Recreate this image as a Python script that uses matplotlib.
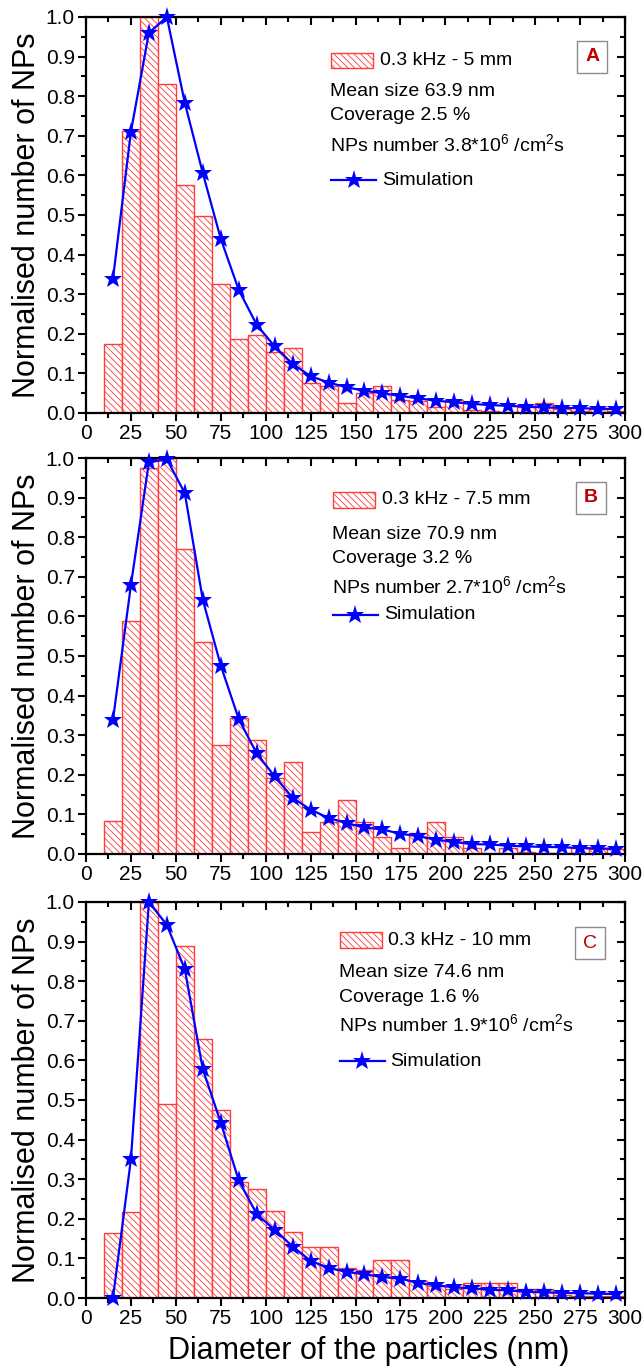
#importing libraries
import numpy as np
import matplotlib
matplotlib.use("Agg")
import matplotlib.pyplot as plt
from matplotlib.patches import Rectangle
from matplotlib.lines import Line2D
from matplotlib.ticker import MultipleLocator, FormatStrFormatter

plt.rcParams['font.family'] = ['Liberation Sans', 'DejaVu Sans']
plt.rcParams['mathtext.fontset'] = 'custom'
plt.rcParams['mathtext.rm'] = 'Liberation Sans'
plt.rcParams['mathtext.it'] = 'Liberation Sans'
plt.rcParams['mathtext.bf'] = 'Liberation Sans:bold'
plt.rcParams['hatch.linewidth'] = 0.6

#---------------- data
# histogram bins (nm), 10 nm wide from 10 to 300
bin_left = [10, 20, 30, 40, 50, 60, 70, 80, 90, 100, 110, 120, 130, 140, 150,
            160, 170, 180, 190, 200, 210, 220, 230, 240, 250, 260, 270, 280, 290]
bin_width = 10
# simulation points at the bin centres
sim_x = [15, 25, 35, 45, 55, 65, 75, 85, 95, 105, 115, 125, 135, 145, 155,
         165, 175, 185, 195, 205, 215, 225, 235, 245, 255, 265, 275, 285, 295]

# panel A : 0.3 kHz - 5 mm
hist_A = [0.173, 0.711, 1.0, 0.832, 0.575, 0.497, 0.327, 0.188, 0.197, 0.154,
          0.163, 0.077, 0.067, 0.024, 0.050, 0.067, 0.033, 0.031, 0.016, 0.033,
          0.008, 0.005, 0.003, 0.016, 0.025, 0.010, 0.005, 0.010, 0.005]
sim_A = [0.338, 0.710, 0.960, 1.0, 0.783, 0.606, 0.440, 0.311, 0.223, 0.168,
         0.124, 0.093, 0.077, 0.065, 0.056, 0.050, 0.043, 0.037, 0.031, 0.027,
         0.023, 0.020, 0.018, 0.016, 0.014, 0.013, 0.012, 0.011, 0.010]

# panel B : 0.3 kHz - 7.5 mm
hist_B = [0.083, 0.589, 0.974, 1.0, 0.770, 0.536, 0.275, 0.344, 0.288, 0.192,
          0.233, 0.055, 0.080, 0.137, 0.082, 0.042, 0.015, 0.054, 0.082, 0.042,
          0.015, 0.003, 0.015, 0.005, 0.003, 0.003, 0.014, 0.013, 0.013]
sim_B = [0.338, 0.679, 0.989, 0.997, 0.911, 0.642, 0.476, 0.341, 0.254, 0.196,
         0.142, 0.112, 0.091, 0.078, 0.067, 0.062, 0.051, 0.045, 0.036, 0.030,
         0.025, 0.024, 0.021, 0.019, 0.018, 0.017, 0.015, 0.014, 0.013]

# panel C : 0.3 kHz - 10 mm
hist_C = [0.165, 0.218, 1.0, 0.490, 0.890, 0.655, 0.474, 0.293, 0.275, 0.220,
          0.167, 0.130, 0.130, 0.075, 0.070, 0.095, 0.095, 0.042, 0.030, 0.022,
          0.038, 0.038, 0.038, 0.022, 0.022, 0.008, 0.005, 0.005, 0.005]
sim_C = [0.0, 0.350, 1.0, 0.942, 0.830, 0.578, 0.443, 0.297, 0.212, 0.172,
         0.130, 0.094, 0.076, 0.066, 0.060, 0.053, 0.049, 0.038, 0.032, 0.027,
         0.024, 0.021, 0.019, 0.016, 0.014, 0.013, 0.012, 0.011, 0.010]

labels = ["A", "B", "C"]
conditions = ["0.3 kHz - 5 mm", "0.3 kHz - 7.5 mm", "0.3 kHz - 10 mm"]
mean_sizes = ["63.9", "70.9", "74.6"]
coverages = ["2.5", "3.2", "1.6"]
np_numbers = ["3.8", "2.7", "1.9"]

hists = [hist_A, hist_B, hist_C]
sims = [sim_A, sim_B, sim_C]

#---------------- layout (figure fractions, measured on the reference)
W, H = 642, 1371
ax_left = 86 / W
ax_width = 539 / W
ax_height = 396 / H
ax_bottoms = [1 - 413 / H, 1 - 854 / H, 1 - 1298 / H]

# inset text positions (axes fraction) for each panel
# [patch x, text x, cond y, mean y, coverage y, nps y, sim y, box x, box y]
inset = [
    [0.455, 0.545, 0.889, 0.813, 0.750, 0.679, 0.588, 0.939, 0.899],
    [0.458, 0.549, 0.894, 0.808, 0.747, 0.677, 0.604, 0.937, 0.899],
    [0.471, 0.560, 0.904, 0.821, 0.760, 0.692, 0.598, 0.935, 0.896],
]

bar_red = '#ff3b3b'
star_blue = '#0000ff'
fs_tick = 15
fs_text = 14
fs_label = 22

fig = plt.figure(figsize=(W / 100, H / 100), dpi=100)

for k in range(3):
    ax = fig.add_axes([ax_left, ax_bottoms[k], ax_width, ax_height])

    # histogram bars
    ax.bar(bin_left, hists[k], width=bin_width, align='edge', color='white',
           edgecolor=bar_red, linewidth=1.0, hatch='\\\\\\\\\\', zorder=2)
    # simulation curve
    ax.plot(sim_x, sims[k], color=star_blue, linewidth=1.6, marker='*',
            markersize=14, markeredgewidth=0, zorder=3, clip_on=False)

    ax.set_xlim(0, 300)
    ax.set_ylim(0, 1.0)
    ax.xaxis.set_major_locator(MultipleLocator(25))
    ax.xaxis.set_minor_locator(MultipleLocator(12.5))
    ax.yaxis.set_major_locator(MultipleLocator(0.1))
    ax.yaxis.set_minor_locator(MultipleLocator(0.05))
    ax.yaxis.set_major_formatter(FormatStrFormatter('%.1f'))
    ax.tick_params(which='major', direction='out', length=6, width=1.5,
                   labelsize=fs_tick, pad=2)
    ax.tick_params(which='minor', direction='out', length=3.5, width=1.5)
    for sp in ax.spines.values():
        sp.set_linewidth(1.6)

    # ticks on top and right point inwards
    top = ax.secondary_xaxis('top')
    top.xaxis.set_major_locator(MultipleLocator(25))
    top.xaxis.set_minor_locator(MultipleLocator(12.5))
    top.tick_params(which='major', direction='in', length=6, width=1.5, labeltop=False)
    top.tick_params(which='minor', direction='in', length=3.5, width=1.5)
    right = ax.secondary_yaxis('right')
    right.yaxis.set_major_locator(MultipleLocator(0.1))
    right.yaxis.set_minor_locator(MultipleLocator(0.05))
    right.tick_params(which='major', direction='in', length=6, width=1.5, labelright=False)
    right.tick_params(which='minor', direction='in', length=3.5, width=1.5)

    ax.set_ylabel('Normalised number of NPs', fontsize=fs_label)
    ax.yaxis.set_label_coords(-0.082, 0.5)
    if k == 2:
        ax.set_xlabel('Diameter of the particles (nm)', fontsize=fs_label)
        ax.xaxis.set_label_coords(0.525, -0.095)

    #-------------- inset legend and annotations
    px, tx, cy, my, cvy, ny, sy, bx, by = inset[k]
    ax.add_patch(Rectangle((px, cy - 0.019), 0.078, 0.040, transform=ax.transAxes,
                           facecolor='white', edgecolor=bar_red, linewidth=1.0,
                           hatch='\\\\\\\\\\', zorder=4))
    ax.text(tx, cy, conditions[k], transform=ax.transAxes, fontsize=fs_text,
            va='center', ha='left')
    ax.text(px - 0.002, my, 'Mean size ' + mean_sizes[k] + ' nm', transform=ax.transAxes,
            fontsize=fs_text, va='center', ha='left')
    ax.text(px - 0.002, cvy, 'Coverage ' + coverages[k] + ' %', transform=ax.transAxes,
            fontsize=fs_text, va='center', ha='left')
    ax.text(px - 0.002, ny, 'NPs number ' + np_numbers[k] + '*10$^{6}$ /cm$^{2}$s',
            transform=ax.transAxes, fontsize=fs_text, va='center', ha='left')
    ax.add_line(Line2D([px, px + 0.083], [sy, sy], transform=ax.transAxes,
                       color=star_blue, linewidth=1.6))
    ax.add_line(Line2D([px + 0.0415], [sy], transform=ax.transAxes, color=star_blue,
                       marker='*', markersize=14, markeredgewidth=0))
    ax.text(tx + 0.004, sy, 'Simulation', transform=ax.transAxes, fontsize=fs_text,
            va='center', ha='left')

    # panel letter in a grey box
    ax.text(bx, by, labels[k], transform=ax.transAxes, fontsize=14,
            fontweight='bold' if k < 2 else 'normal', color='#c00000',
            ha='center', va='center',
            bbox=dict(boxstyle='square,pad=0.4', facecolor='white',
                      edgecolor='#8c8c8c', linewidth=1.0))

fig.savefig('out.png', dpi=100)
